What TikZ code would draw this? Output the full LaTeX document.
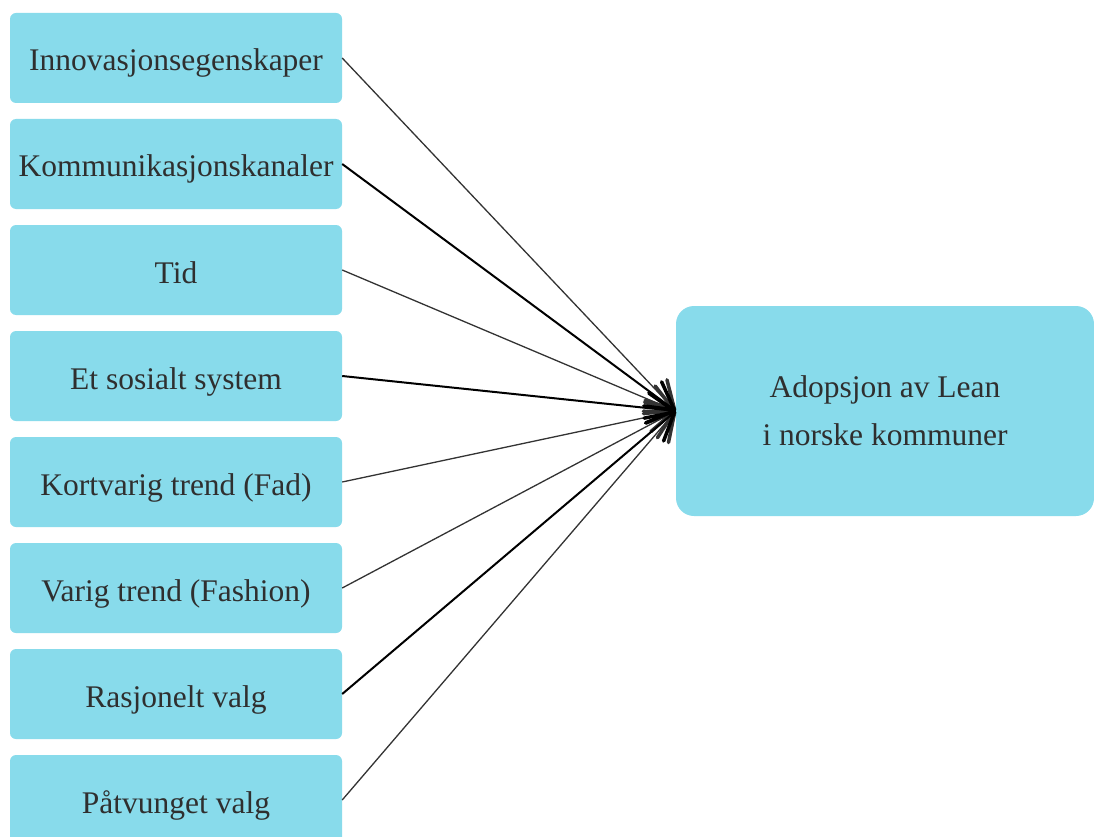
\documentclass[tikz,border=0pt]{standalone}
\usepackage{fontspec}
\setmainfont{Liberation Serif}
\usetikzlibrary{arrows.meta}
\definecolor{boxfill}{HTML}{88DBEB}
\definecolor{txt}{HTML}{2F2F2F}
\definecolor{ln}{HTML}{333333}
\begin{document}
\begin{tikzpicture}[x=1pt,y=-1pt,
  leftbox/.style={fill=boxfill, rounded corners=6pt, minimum width=332pt, minimum height=90pt, inner sep=0pt, text height=26pt, text depth=0pt, text=txt, font=\fontsize{31.5}{36}\selectfont},
  rightbox/.style={fill=boxfill, rounded corners=18pt, minimum width=418pt, minimum height=210pt, inner sep=0pt, text=txt, align=center, font=\fontsize{31.5}{48}\selectfont},
  conn/.style={draw=ln, line width=1.3pt, -{Straight Barb[length=27pt,width=30pt,line width=3.5pt,round]}},
  thickconn/.style={conn, draw=black, line width=2pt}]
\useasboundingbox (0,0) rectangle (1094,837);
\node[leftbox] (a1) at (176,58) {Innovasjonsegenskaper};
\node[leftbox] (a2) at (176,164) {Kommunikasjonskanaler};
\node[leftbox] (a3) at (176,270) {Tid};
\node[leftbox] (a4) at (176,376) {Et sosialt system};
\node[leftbox] (a5) at (176,482) {Kortvarig trend (Fad)};
\node[leftbox] (a6) at (176,588) {Varig trend (Fashion)};
\node[leftbox] (a7) at (176,694) {Rasjonelt valg};
\node[leftbox] (a8) at (176,800) {Påtvunget valg};
\node[rightbox] (b) at (885,411) {Adopsjon av Lean\\i norske kommuner};
\foreach \i in {1,3,5,6,8}{
  \draw[conn] (a\i.east) -- (b.west);
}
\foreach \i in {2,4,7}{
  \draw[thickconn] (a\i.east) -- (b.west);
}
\end{tikzpicture}
\end{document}
